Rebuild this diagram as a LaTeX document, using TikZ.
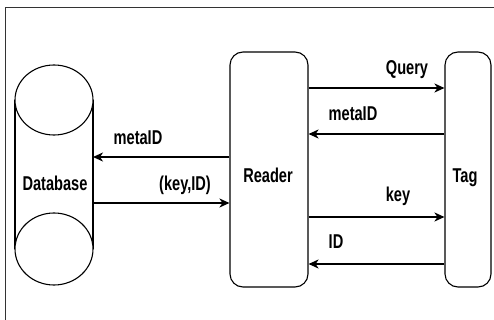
\documentclass[tikz,border=0pt]{standalone}
\usepackage{fontspec}
\usepackage{graphicx}
\setmainfont{Liberation Sans}
\usetikzlibrary{arrows.meta}
\newcommand{\lbl}[1]{\scalebox{0.73}[1]{\fontsize{20}{20}\selectfont\bfseries #1}}
\tikzset{
  shapeline/.style={draw=black, line width=1.1pt},
  msg/.style={draw=black, line width=2.6pt, -{Stealth[length=10pt,width=9pt,inset=3pt]}},
  lab/.style={inner sep=0pt, anchor=center},
}
\begin{document}
\begin{tikzpicture}[x=1pt,y=-1pt]
\useasboundingbox (0,0) rectangle (494,320);
% frame
\draw[line width=1pt, black!80] (5,320) -- (5,8) -- (422,8);
\draw[line width=1pt, black!80] (422,7.5) -- (494,7.5);
% database cylinder
\draw[shapeline] (15,100) -- (15,249);
\draw[shapeline] (93,100) -- (93,249);
\draw[shapeline, fill=white] (54,100) ellipse [x radius=39, y radius=35];
\draw[shapeline, fill=white] (54,249) ellipse [x radius=39, y radius=36];
\node[lab] (db) at (55,183) {\lbl{Database}};
\coordinate (dbR1) at (93,157);
\coordinate (dbR2) at (93,203);
% reader
\node[shapeline, rounded corners=13pt, minimum width=78pt, minimum height=235pt, inner sep=0pt] (reader) at (269,169.5) {};
\node[lab] at (268,175) {\lbl{Reader}};
% tag
\node[shapeline, rounded corners=13pt, minimum width=46pt, minimum height=235pt, inner sep=0pt] (tag) at (468,169.5) {};
\node[lab] at (465,178) {\lbl{Tag}};
% arrows reader <-> database
\draw[msg] (reader.west |- dbR1) -- (dbR1);
\draw[msg] (dbR2) -- (reader.west |- dbR2);
\node[lab] at (138,138) {\lbl{metaID}};
\node[lab] at (185,185) {\lbl{(key,ID)}};
% arrows reader <-> tag
\coordinate (y1) at (0,88);
\coordinate (y2) at (0,134);
\coordinate (y3) at (0,217);
\coordinate (y4) at (0,264);
\draw[msg] (reader.east |- y1) -- (tag.west |- y1);
\draw[msg] (tag.west |- y2) -- (reader.east |- y2);
\draw[msg] (reader.east |- y3) -- (tag.west |- y3);
\draw[msg] (tag.west |- y4) -- (reader.east |- y4);
\node[lab] at (407,70) {\lbl{Query}};
\node[lab] at (353,114) {\lbl{metaID}};
\node[lab] at (398,196) {\lbl{key}};
\node[lab] at (336,242) {\lbl{ID}};
\end{tikzpicture}
\end{document}
